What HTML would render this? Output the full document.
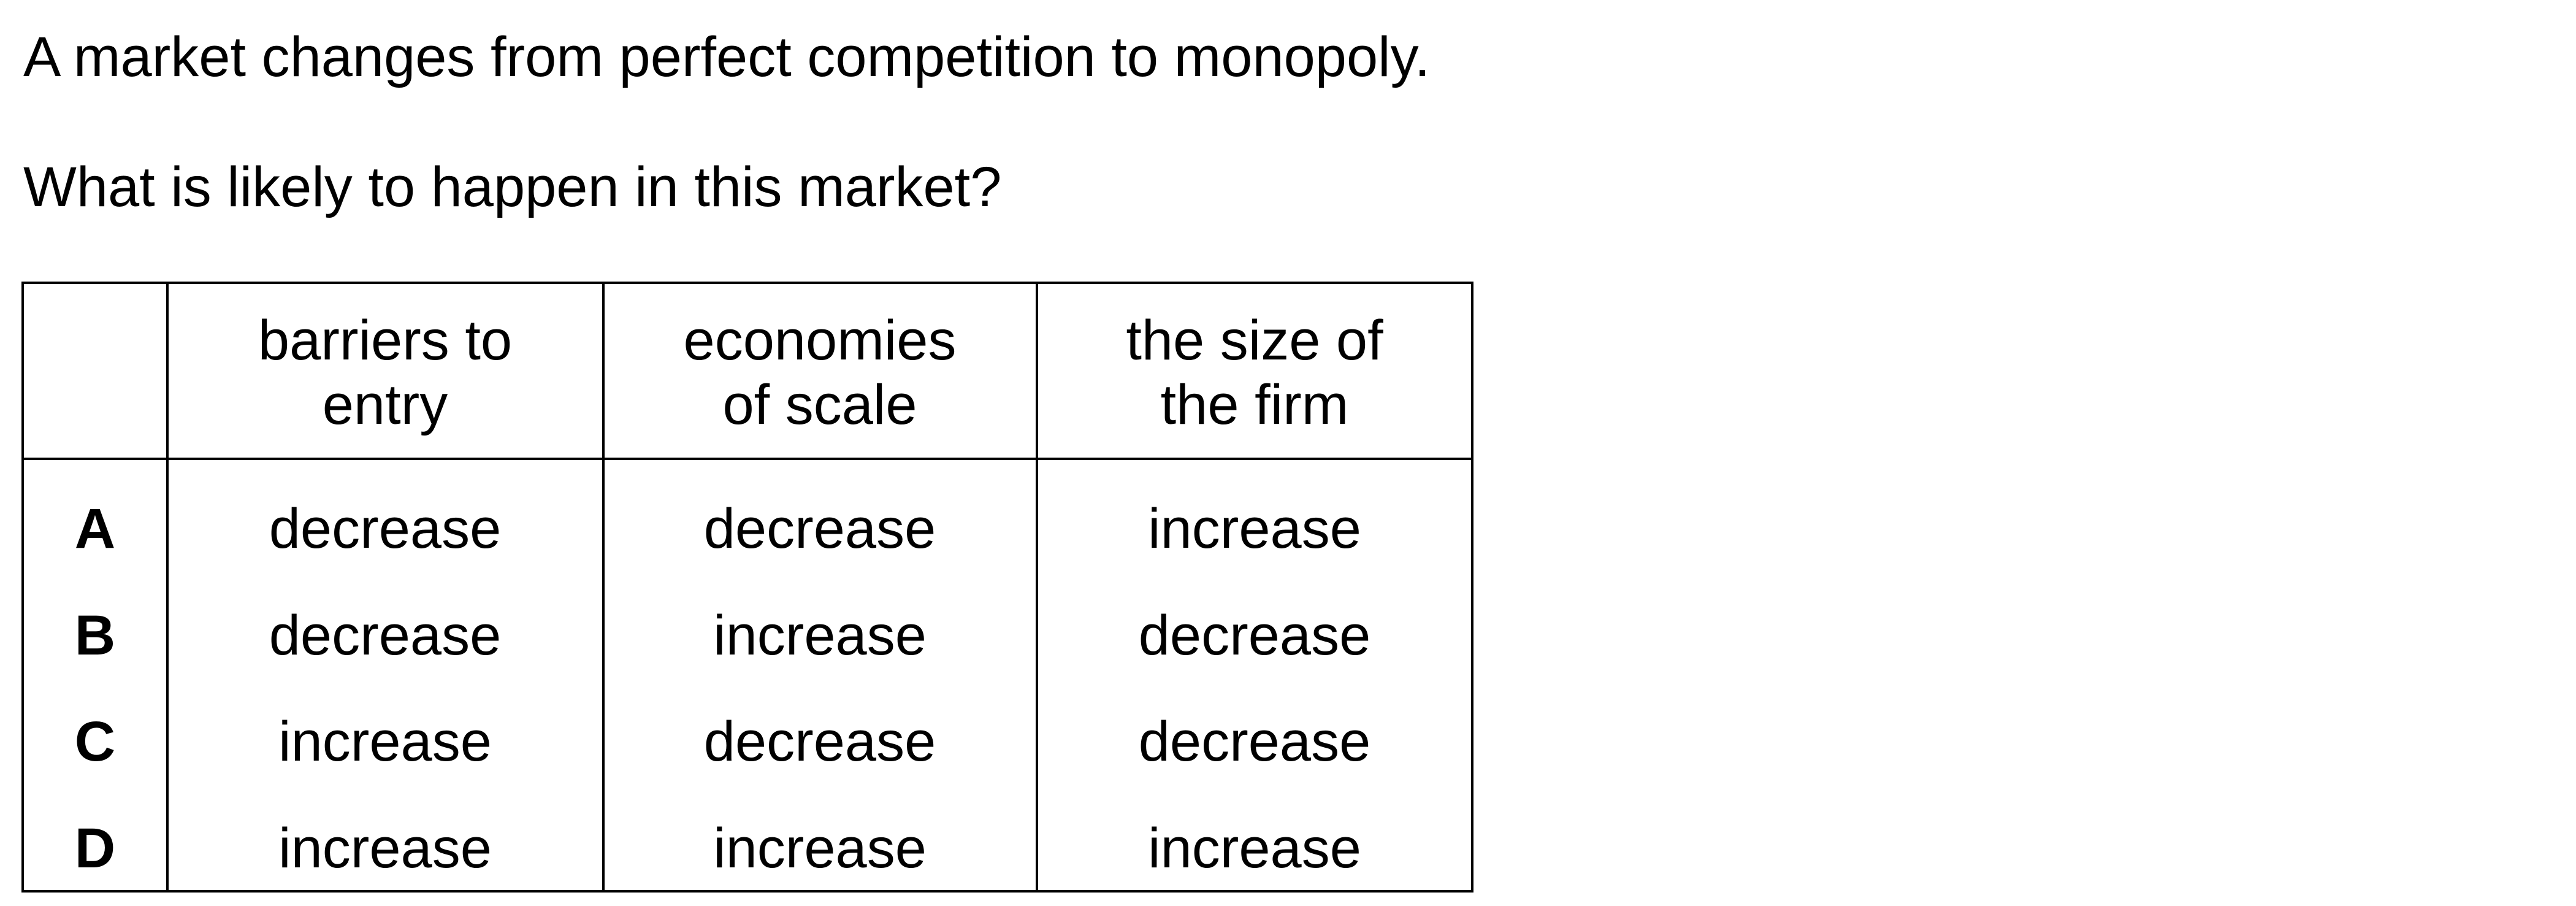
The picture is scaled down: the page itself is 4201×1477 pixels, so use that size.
<!DOCTYPE html>
<html><head><meta charset="utf-8"><style>
html,body{margin:0;padding:0;background:#fff;}
svg{display:block;}
text{font-family:"Liberation Sans",Arial,sans-serif;font-size:92px;fill:#000;}
</style></head><body>
<svg width="4201" height="1477" viewBox="0 0 4201 1477">
<text x="38" y="124">A market changes from perfect competition to monopoly.</text>
<text x="38" y="336">What is likely to happen in this market?</text>
<g stroke="#000" stroke-width="4" fill="none">
<rect x="37" y="461" width="2364" height="992"/>
<line x1="37" y1="748" x2="2401" y2="748"/>
<line x1="273" y1="461" x2="273" y2="1453"/>
<line x1="984" y1="461" x2="984" y2="1453"/>
<line x1="1691" y1="461" x2="1691" y2="1453"/>
</g>
<g text-anchor="middle">
<text x="628" y="586">barriers to</text>
<text x="628" y="691">entry</text>
<text x="1337" y="586">economies</text>
<text x="1337" y="691">of scale</text>
<text x="2046" y="586">the size of</text>
<text x="2046" y="691">the firm</text>

<text x="155" y="893" font-weight="bold">A</text>
<text x="628" y="893">decrease</text>
<text x="1337" y="893">decrease</text>
<text x="2046" y="893">increase</text>

<text x="155" y="1067" font-weight="bold">B</text>
<text x="628" y="1067">decrease</text>
<text x="1337" y="1067">increase</text>
<text x="2046" y="1067">decrease</text>

<text x="155" y="1240" font-weight="bold">C</text>
<text x="628" y="1240">increase</text>
<text x="1337" y="1240">decrease</text>
<text x="2046" y="1240">decrease</text>

<text x="155" y="1414" font-weight="bold">D</text>
<text x="628" y="1414">increase</text>
<text x="1337" y="1414">increase</text>
<text x="2046" y="1414">increase</text>
</g>
</svg>
</body></html>
